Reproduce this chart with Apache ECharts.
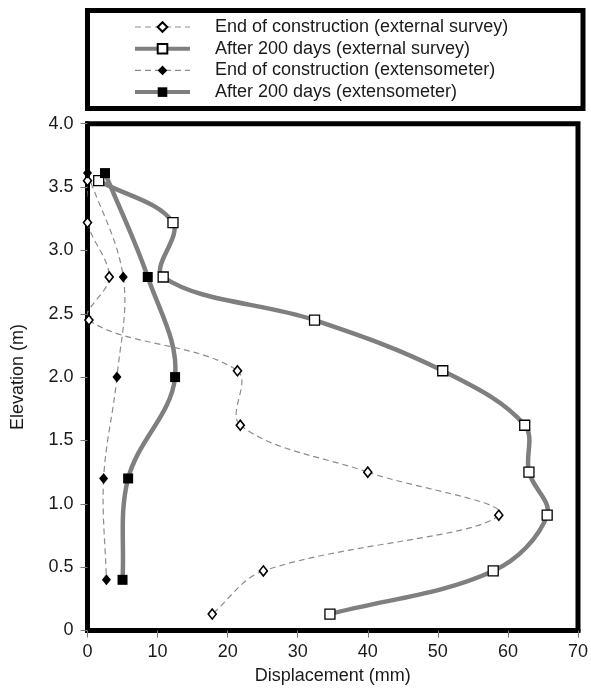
<!DOCTYPE html>
<html>
<head>
<meta charset="utf-8">
<script src="https://cdn.jsdelivr.net/npm/echarts@6/dist/echarts.min.js"></script>
<style>
  html, body { margin: 0; padding: 0; background: #fff; }
  #chart { width: 591px; height: 693px; }
</style>
</head>
<body>
<div id="chart"></div>
<script>
// Lateral displacement profiles (mm) against elevation (m)
const seriesNames = [
  'End of construction (external survey)',
  'After 200 days (external survey)',
  'End of construction (extensometer)',
  'After 200 days (extensometer)'
];

// External survey points
const surveyElev = [3.55, 3.22, 2.79, 2.45, 2.05, 1.62, 1.25, 0.91, 0.47, 0.13];
const surveyEndDisp = [0, 0, 3.1, 0.2, 21.4, 21.8, 40.0, 58.7, 25.1, 17.8];
const survey200Disp = [1.6, 12.2, 10.8, 32.4, 50.7, 62.4, 63.0, 65.6, 57.9, 34.6];

// Extensometer points
const extElev = [3.61, 2.79, 2.0, 1.2, 0.4];
const extEndDisp = [0, 5.1, 4.2, 2.3, 2.7];
const ext200Disp = [2.5, 8.6, 12.5, 5.8, 5.0];

// Axis ticks
const xTicks = [0, 10, 20, 30, 40, 50, 60, 70];
const yTicks = [0, 0.5, 1.0, 1.5, 2.0, 2.5, 3.0, 3.5, 4.0];

const pairs = (xs, ys) => xs.map((x, i) => [x, ys[i]]);

const FONT = 'Liberation Sans, Arial, sans-serif';
const TXT = '#1a1a1a';
const FS = 18;

const dashedLine = { color: '#8c8c8c', width: 1.2, type: [6, 4] };
const thickLine = { color: '#7f7f7f', width: 4.5, type: 'solid' };

// Smooth curve through the points of one profile: each data item draws the
// cubic Bezier segment to the next point. Tangents follow the neighbouring
// points, with handle lengths weighted by the lengths of adjacent segments.
function curveSeries(xs, ys, line, z) {
  const pts = pairs(xs, ys);
  const s = 0.36;
  return {
    type: 'custom',
    coordinateSystem: 'cartesian2d',
    clip: true,
    silent: true,
    z: z,
    data: pts,
    encode: { x: 0, y: 1 },
    renderItem: function (params, api) {
      const i = params.dataIndex;
      const n = pts.length;
      if (i >= n - 1) return null;
      const c = k => api.coord(pts[Math.max(0, Math.min(n - 1, k))]);
      const p0 = c(i - 1), p1 = c(i), p2 = c(i + 1), p3 = c(i + 2);
      const d = (a, b) => Math.hypot(b[0] - a[0], b[1] - a[1]);
      const l01 = d(p0, p1), l12 = d(p1, p2), l23 = d(p2, p3);
      const k1 = l01 + l12 > 0 ? s * l12 / (l01 + l12) : 0;
      const k2 = l12 + l23 > 0 ? s * l12 / (l12 + l23) : 0;
      return {
        type: 'bezierCurve',
        shape: {
          x1: p1[0], y1: p1[1],
          x2: p2[0], y2: p2[1],
          cpx1: p1[0] + (p2[0] - p0[0]) * k1,
          cpy1: p1[1] + (p2[1] - p0[1]) * k1,
          cpx2: p2[0] - (p3[0] - p1[0]) * k2,
          cpy2: p2[1] - (p3[1] - p1[1]) * k2
        },
        style: {
          fill: null,
          stroke: line.color,
          lineWidth: line.width,
          lineDash: Array.isArray(line.type) ? line.type : null,
          lineCap: 'butt'
        }
      };
    }
  };
}

// Marker layer for one profile (its own line hidden; the curve is drawn above)
function markerSeries(name, xs, ys, line, symbol, size, itemStyle) {
  return {
    name: name,
    type: 'line',
    data: pairs(xs, ys),
    lineStyle: Object.assign({}, line, { opacity: 0 }),
    symbol: symbol,
    symbolSize: size,
    showAllSymbol: true,
    itemStyle: itemStyle,
    z: 5
  };
}

const chart = echarts.init(document.getElementById('chart'), null, { renderer: 'canvas' });

chart.setOption({
  animation: false,
  backgroundColor: '#fff',
  textStyle: { fontFamily: FONT },
  graphic: [{
    type: 'rect',
    shape: { x: 87.5, y: 10.5, width: 495.5, height: 98 },
    style: { fill: 'none', stroke: '#000', lineWidth: 5 },
    z: 10
  }],
  legend: {
    orient: 'vertical',
    left: 133,
    top: 18,
    padding: 0,
    itemWidth: 55,
    itemHeight: 12,
    itemGap: 3.7,
    selectedMode: false,
    textStyle: { fontSize: FS, color: TXT, fontFamily: FONT, lineHeight: 18, padding: [0, 0, 0, 20] },
    data: [
      { name: seriesNames[0], lineStyle: { opacity: 1, width: 1.2 } },
      { name: seriesNames[1], lineStyle: { opacity: 1, width: 4 } },
      { name: seriesNames[2], lineStyle: { opacity: 1, width: 1.2 } },
      { name: seriesNames[3], lineStyle: { opacity: 1, width: 4 } }
    ]
  },
  grid: { left: 87.5, right: 9, top: 123.7, bottom: 62.5, show: true, borderColor: '#000', borderWidth: 5, containLabel: false },
  xAxis: {
    type: 'value',
    min: xTicks[0],
    max: xTicks[xTicks.length - 1],
    interval: 10,
    name: 'Displacement (mm)',
    nameLocation: 'middle',
    nameGap: 37,
    nameTextStyle: { fontSize: FS, color: TXT, fontFamily: FONT },
    axisLine: { show: true, onZero: false, lineStyle: { color: '#000', width: 5 } },
    axisTick: { show: true, length: 7, lineStyle: { color: '#777', width: 1 } },
    axisLabel: { fontSize: FS, color: TXT, margin: 13, fontFamily: FONT },
    splitLine: { show: false }
  },
  yAxis: {
    type: 'value',
    min: yTicks[0],
    max: yTicks[yTicks.length - 1],
    interval: 0.5,
    name: 'Elevation (m)',
    nameLocation: 'middle',
    nameGap: 60,
    nameTextStyle: { fontSize: FS, color: TXT, fontFamily: FONT },
    axisLine: { show: true, onZero: false, lineStyle: { color: '#000', width: 5 } },
    axisTick: { show: true, length: 7, lineStyle: { color: '#777', width: 1 } },
    axisLabel: {
      fontSize: FS, color: TXT, margin: 14, fontFamily: FONT,
      formatter: v => (v === 0 ? '0' : v.toFixed(1))
    },
    splitLine: { show: false }
  },
  series: [
    curveSeries(survey200Disp, surveyElev, thickLine, 2),
    curveSeries(ext200Disp, extElev, thickLine, 2),
    curveSeries(surveyEndDisp, surveyElev, dashedLine, 3),
    curveSeries(extEndDisp, extElev, dashedLine, 3),
    markerSeries(seriesNames[0], surveyEndDisp, surveyElev, dashedLine, 'diamond', [8, 10],
      { color: '#fff', borderColor: '#000', borderWidth: 1.6 }),
    markerSeries(seriesNames[1], survey200Disp, surveyElev, thickLine, 'rect', 10,
      { color: '#fff', borderColor: '#000', borderWidth: 1.3 }),
    markerSeries(seriesNames[2], extEndDisp, extElev, dashedLine, 'diamond', [9, 11],
      { color: '#000', borderColor: '#000', borderWidth: 0 }),
    markerSeries(seriesNames[3], ext200Disp, extElev, thickLine, 'rect', 10,
      { color: '#000', borderColor: '#000', borderWidth: 0 })
  ]
});
</script>
</body>
</html>
